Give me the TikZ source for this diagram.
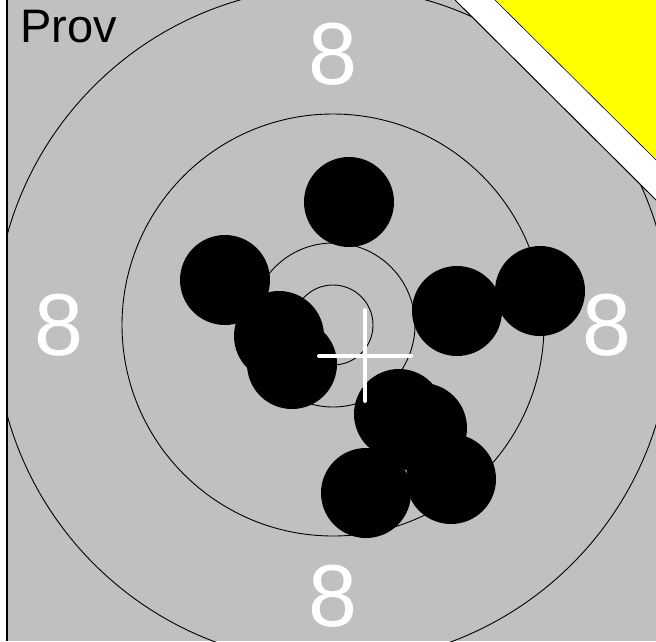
\documentclass[tikz,border=0pt]{standalone}
\usepackage{fontspec}
\setmainfont{Liberation Sans}
\definecolor{tgray}{RGB}{192,192,192}
\definecolor{tyellow}{RGB}{255,255,0}
\begin{document}
\begin{tikzpicture}[x=1pt,y=-1pt,
  ring/.style={draw=black,line width=0.9pt},
  shot/.style={fill=black},
  ringnum/.style={text=white,inner sep=0pt,font=\fontsize{88}{90}\selectfont},
  crossline/.style={draw=white,line width=4pt,line cap=round}]
\useasboundingbox (0,0) rectangle (656,641);
% background
\fill[white] (0,0) rectangle (656,641);
\fill[tgray] (8,0) rectangle (656,641);
\draw[black,line width=2pt] (7,0) -- (7,641);
% rings
\coordinate (c) at (333,325);
\begin{scope}
\clip (8,0) rectangle (656,641);
\draw[ring] (c) circle[radius=40];
\draw[ring] (c) circle[radius=82];
\draw[ring] (c) circle[radius=211];
\draw[ring] (c) circle[radius=338];
\end{scope}
% ring numbers
\node[ringnum,anchor=base] (n8t) at (333,84) {8};
\node[ringnum,anchor=base] (n8b) at (333,626) {8};
\node[ringnum,anchor=base] (n8l) at (59,355) {8};
\node[ringnum,anchor=base] (n8r) at (607,355) {8};
% shots
\foreach \x/\y in {349/202, 225/280, 279/336, 292/364, 457/311, 540/291,
                   399/414, 422/428, 451/479, 366/493}
  \fill[shot] (\x,\y) circle[radius=45];
% mean point cross
\draw[crossline] (365,310) -- (365,401);
\draw[crossline] (319,356) -- (411,356);
% corner
\fill[white] (455,0) -- (656,0) -- (656,200) -- cycle;
\draw[black,line width=1pt] (455,0) -- (656,200);
\fill[tyellow] (495,0) -- (656,0) -- (656,160) -- cycle;
\draw[black,line width=0.6pt] (495,0) -- (656,160);
% label
\node[anchor=base west,inner sep=0pt,font=\fontsize{47}{52}\selectfont] (prov) at (20,42) {Prov};
\end{tikzpicture}
\end{document}
